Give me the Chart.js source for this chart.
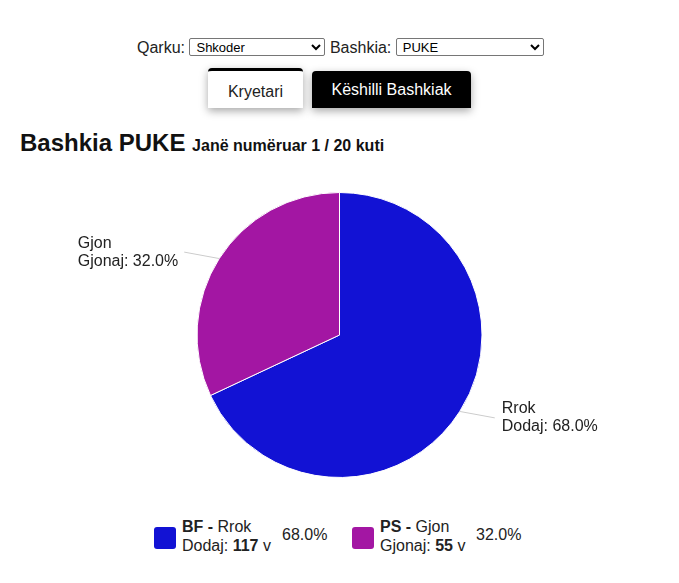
<!DOCTYPE html>
<html>
<head>
<meta charset="utf-8">
<script src="https://cdn.jsdelivr.net/npm/chart.js@4"></script>
<style>
  body { margin: 0; font-family: "Liberation Sans", Arial, sans-serif; background: #fff; width: 679px; height: 583px; overflow: hidden; position: relative; }
  #filters { position: absolute; top: 38px; left: 137px; font-size: 16px; color: #222; white-space: nowrap; }
  #filters select { font-size: 13px; height: 18px; padding: 0 2px; border: 1px solid #767676; border-radius: 2px; vertical-align: 1px; background: #fff; }
  .tab { position: absolute; font-size: 16px; text-align: center; box-shadow: 0 3px 8px rgba(0,0,0,0.35); }
  #tab1 { left: 208px; top: 68px; width: 95px; height: 37px; line-height: 41px; background: #fff; color: #222; border-top: 3px solid #000; border-radius: 4px 4px 0 0; }
  #tab2 { left: 312px; top: 71px; width: 159px; height: 37px; line-height: 37px; background: #000; color: #fff; border-radius: 4px 4px 0 0; }
  #panel { position: absolute; left: 0; top: 108px; width: 679px; height: 475px; background: #fff; }
  #title { position: absolute; left: 20px; top: 129px; font-weight: bold; font-size: 24px; color: #111; white-space: nowrap; }
  #title small { font-size: 16px; }
  #wrap { position: absolute; left: 0; top: 185px; width: 679px; height: 300px; }
  #legend { position: absolute; top: 517px; left: 154px; font-size: 16px; color: #222; white-space: nowrap; }
  .item { display: inline-block; position: relative; height: 40px; vertical-align: top; }
  .box { position: absolute; left: 0; top: 10px; width: 22px; height: 22px; border-radius: 3px; }
  .txt { position: absolute; left: 28px; top: 0; line-height: 19px; }
  .pct { position: absolute; top: 9px; }
</style>
</head>
<body>
<div id="filters">Qarku: <select style="width:136px"><option>Shkoder</option></select> Bashkia: <select style="width:148px"><option>PUKE</option></select></div>
<div id="panel"></div>
<div class="tab" id="tab1">Kryetari</div>
<div class="tab" id="tab2">Këshilli Bashkiak</div>
<div id="title">Bashkia PUKE <small>Janë numëruar 1 / 20 kuti</small></div>
<div id="wrap"><canvas id="pie"></canvas></div>
<div id="legend"></div>
<script>
const parties = ["BF", "PS"];
const names = ["Rrok", "Gjon"];
const surnames = ["Dodaj", "Gjonaj"];
const votes = [117, 55];
const colors = ["#1212d4", "#a316a3"];

const total = votes.reduce((a, b) => a + b, 0);
const pcts = votes.map(v => (v / total * 100).toFixed(1) + "%");

// labels outside the pie with a thin leader line
const outLabels = {
  id: "outLabels",
  afterDatasetsDraw(chart) {
    const ctx = chart.ctx;
    const meta = chart.getDatasetMeta(0);
    ctx.save();
    ctx.font = "16px 'Liberation Sans', Arial, sans-serif";
    ctx.fillStyle = "#222";
    ctx.textBaseline = "middle";
    meta.data.forEach((arc, i) => {
      const mid = (arc.startAngle + arc.endAngle) / 2;
      const r = arc.outerRadius;
      const ex = arc.x + Math.cos(mid) * r;
      const ey = arc.y + Math.sin(mid) * r;
      const right = Math.cos(mid) >= 0;
      const lx = ex + (right ? 35 : -35);
      const ly = ey + Math.sin(mid) * 12;
      ctx.strokeStyle = "#ccc";
      ctx.lineWidth = 1;
      ctx.beginPath();
      ctx.moveTo(ex, ey);
      ctx.lineTo(lx, ly);
      ctx.stroke();
      const l1 = names[i];
      const l2 = surnames[i] + ": " + pcts[i];
      const w = Math.max(ctx.measureText(l1).width, ctx.measureText(l2).width);
      const tx = right ? lx + 7 : lx - 6 - w;
      ctx.textAlign = "left";
      ctx.fillText(l1, tx, ly - 9);
      ctx.fillText(l2, tx, ly + 9);
    });
    ctx.restore();
  }
};

new Chart(document.getElementById("pie"), {
  type: "pie",
  data: {
    labels: names,
    datasets: [{
      data: votes,
      backgroundColor: colors,
      borderColor: "#fff",
      borderWidth: 1
    }]
  },
  options: {
    responsive: true,
    maintainAspectRatio: false,
    animation: false,
    layout: { padding: { top: 7, bottom: 7 } },
    plugins: { legend: { display: false }, tooltip: { enabled: false } }
  },
  plugins: [outLabels]
});

const legend = document.getElementById("legend");
const widths = [198, 200];
parties.forEach((p, i) => {
  const item = document.createElement("div");
  item.className = "item";
  item.style.width = widths[i] + "px";
  item.innerHTML =
    '<div class="box" style="background:' + colors[i] + '"></div>' +
    '<div class="txt"><b>' + p + ' -</b> ' + names[i] + '<br>' + surnames[i] + ': <b>' + votes[i] + '</b> v</div>' +
    '<div class="pct" style="left:' + (i === 0 ? 128 : 124) + 'px">' + pcts[i] + '</div>';
  legend.appendChild(item);
});
</script>
</body>
</html>
